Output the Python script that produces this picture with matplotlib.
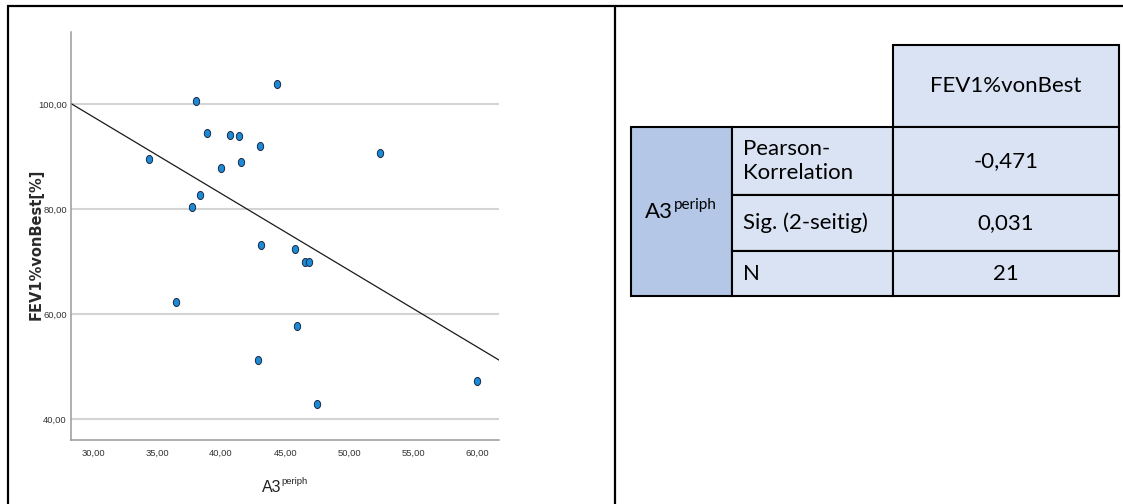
import numpy as np
import matplotlib
matplotlib.use("Agg")
import matplotlib.pyplot as plt
from matplotlib.path import Path
from matplotlib.patches import Rectangle
from matplotlib.ticker import FuncFormatter
from matplotlib import font_manager

# ---------------- data ----------------
a3_periph = [34.35, 36.51, 37.76, 38.07, 38.36, 38.88, 40.00, 40.73, 41.41, 41.56,
             43.00, 43.10, 42.89, 44.40, 45.80, 45.94, 46.59, 46.85, 47.47, 52.42, 59.97]
fev1_pct = [89.54, 62.25, 80.50, 100.73, 82.73, 94.50, 87.94, 94.12, 94.05, 89.03,
            92.00, 73.20, 51.18, 103.85, 72.42, 57.70, 69.94, 70.00, 42.78, 90.69, 47.23]
x_ticks = [30, 35, 40, 45, 50, 55, 60]
y_ticks = [40, 60, 80, 100]

table_header = "FEV1%vonBest"
table_row_labels = ["Pearson-\nKorrelation", "Sig. (2-seitig)", "N"]
table_values = ["-0,471", "0,031", "21"]

# ---------------- fonts ----------------
available = {f.name for f in font_manager.fontManager.ttflist}
narrow_name = "Liberation Sans"
narrow_scale = 1.0
for cand in ["Liberation Sans Narrow", "DejaVu Sans Condensed"]:
    if cand in available:
        narrow_name = cand
        narrow_scale = 1.12
        break
narrow = [narrow_name, "DejaVu Sans"]

# ---------------- figure ----------------
W, H = 1123, 504
fig = plt.figure(figsize=(W / 100, H / 100), dpi=100)

def fx(px):
    return px / W

def fy(py):
    return 1 - py / H

ax_l, ax_r, ax_t, ax_b = 71, 499, 32, 440
ax = fig.add_axes([fx(ax_l), fy(ax_b), fx(ax_r - ax_l), (ax_b - ax_t) / H])
ax.set_xlim(28.28, 61.7)
ax.set_ylim(36.0, 113.8)

for y in y_ticks:
    ax.axhline(y, color="#d4d4d4", lw=1.5, zorder=0)

# regression line
slope, intercept = np.polyfit(a3_periph, fev1_pct, 1)
xl = np.array(ax.get_xlim())
ax.plot(xl, intercept + slope * xl, color="#1a1a1a", lw=0.9, zorder=2)

# elliptical marker
t = np.linspace(0, 2 * np.pi, 40)
ell = Path(np.column_stack([0.78 * np.cos(t), np.sin(t)]))
ax.scatter(a3_periph, fev1_pct, marker=ell, s=34, color="#1c8ad6",
           edgecolor="#1b2a44", linewidths=0.7, zorder=3)

for s in ["top", "right"]:
    ax.spines[s].set_visible(False)
for s in ["left", "bottom"]:
    ax.spines[s].set_color("#9a9a9a")
    ax.spines[s].set_linewidth(1.1)

ax.set_xticks(x_ticks)
ax.set_yticks(y_ticks)
fmt = FuncFormatter(lambda v, p: f"{v:.2f}".replace(".", ","))
ax.xaxis.set_major_formatter(fmt)
ax.yaxis.set_major_formatter(fmt)
ax.tick_params(length=0, labelsize=6.8 * narrow_scale, colors="#333333")
ax.tick_params(axis="x", pad=6)
ax.tick_params(axis="y", pad=3)
for lab in ax.get_xticklabels() + ax.get_yticklabels():
    lab.set_family(narrow)
ax.patch.set_alpha(0)

# axis labels
fig.text(fx(36), fy(244), "FEV1%vonBest[%]", rotation=90, ha="center", va="center",
         fontsize=10.5, fontweight="bold", family=["DejaVu Sans"], color="#2a2a2a")
fig.text(fx(281.5), fy(492.5), "A3", ha="right", va="baseline",
         fontsize=11.5 * narrow_scale, family=narrow, color="#222222")
fig.text(fx(281.5), fy(484), "periph", ha="left", va="baseline",
         fontsize=6.8 * narrow_scale, family=narrow, color="#222222")

# ---------------- overlay: borders and table ----------------
ov = fig.add_axes([0, 0, 1, 1])
ov.set_xlim(0, W)
ov.set_ylim(H, 0)
ov.axis("off")
ov.patch.set_alpha(0)

blw = 1.6
ov.plot([7, W], [6, 6], color="black", lw=blw, solid_capstyle="butt")
ov.plot([8, 8], [6, H], color="black", lw=blw, solid_capstyle="butt")
ov.plot([615, 615], [6, H], color="black", lw=blw, solid_capstyle="butt")

light = "#DAE3F3"
dark = "#B4C7E7"
cx = [631, 732, 893, 1119]
ry = [45, 127, 195, 251, 296]

def cell(x0, y0, x1, y1, fc):
    ov.add_patch(Rectangle((x0, y0), x1 - x0, y1 - y0, facecolor=fc,
                           edgecolor="black", lw=1.5, zorder=1))

cell(cx[2], ry[0], cx[3], ry[1], light)
cell(cx[0], ry[1], cx[1], ry[4], dark)
for i in range(3):
    cell(cx[1], ry[i + 1], cx[2], ry[i + 2], light)
    cell(cx[2], ry[i + 1], cx[3], ry[i + 2], light)

tfont = ["Lato", "DejaVu Sans"]
tsize = 16
ov.text((cx[2] + cx[3]) / 2, (ry[0] + ry[1]) / 2, table_header, ha="center", va="center",
        fontsize=tsize, family=tfont, zorder=3)
for i in range(3):
    ymid = (ry[i + 1] + ry[i + 2]) / 2
    ov.text(cx[1] + 11, ymid, table_row_labels[i], ha="left", va="center",
            fontsize=tsize, family=tfont, linespacing=1.3, zorder=3)
    ov.text((cx[2] + cx[3]) / 2, ymid, table_values[i], ha="center", va="center",
            fontsize=tsize, family=tfont, zorder=3)

ov.text(673, 218, "A3", ha="right", va="baseline", fontsize=tsize, family=tfont, zorder=3)
ov.text(673.5, 209, "periph", ha="left", va="baseline", fontsize=11, family=tfont, zorder=3)

fig.savefig("out.png", dpi=100)
